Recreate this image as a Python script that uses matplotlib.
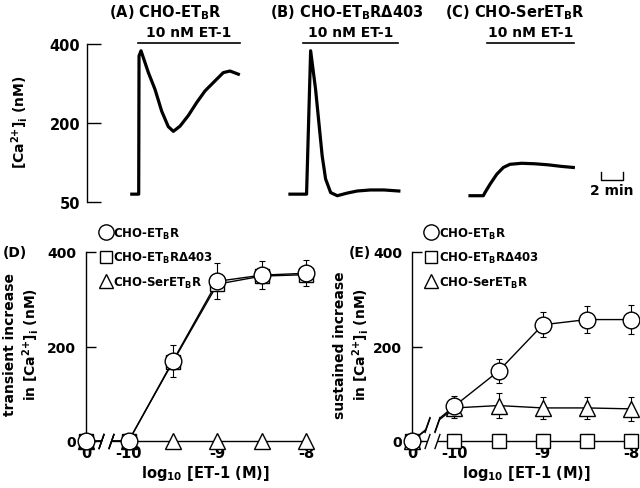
import numpy as np
import matplotlib
matplotlib.use("Agg")
import matplotlib.pyplot as plt
from matplotlib.path import Path
from matplotlib.lines import Line2D
import matplotlib.transforms as mtransforms

plt.rcParams['font.family'] = ['DejaVu Sans']
plt.rcParams['font.weight'] = 'bold'
plt.rcParams['axes.labelweight'] = 'bold'
plt.rcParams['mathtext.default'] = 'bf'

# ---------------- data: [Ca2+]i traces (time in min relative to ET-1 addition, value nM)
trace_titles = ["(A) CHO-ET$_B$R", "(B) CHO-ET$_B$R\u0394403", "(C) CHO-SerET$_B$R"]
A_t = [-0.66, -0.03, 0.0, 0.18, 0.85, 1.45, 2.06, 2.66, 3.12, 3.73, 4.48, 5.25, 6.0, 6.9, 7.66, 8.27, 9.03]
A_v = [65, 65, 370, 383, 328, 286, 231, 194, 185, 195, 220, 253, 282, 307, 328, 332, 324]
B_t = [-1.45, 0.06, 0.43, 0.88, 1.18, 1.48, 1.79, 2.25, 2.85, 3.75, 4.66, 5.88, 7.09, 8.45]
B_v = [65, 65, 383, 286, 202, 138, 94, 68, 62, 67, 71, 73, 73, 71]
C_t = [-1.18, 0.03, 0.18, 0.64, 1.25, 1.85, 2.45, 3.52, 4.73, 5.94, 7.15, 8.21]
C_v = [62, 62, 68, 84, 103, 116, 122, 124, 123, 121, 118, 116]
stim_on = [-0.09, -0.27, 0.36]
stim_off = [9.18, 8.36, 8.27]
stim_label = "10 nM ET-1"
top_yticks = [50, 200, 400]

# ---------------- data: dose-response
series_labels = ["CHO-ET$_B$R", "CHO-ET$_B$R\u0394403", "CHO-SerET$_B$R"]
log_conc = [-10, -9.5, -9, -8.5, -8]
control_value = 0
D_circle = [0, 170, 338, 351, 355]
D_circle_err = [0, 34, 38, 29, 28]
D_square = [0, 168, 332, 349, 352]
D_tri = [0, 0, 0, 0, 0]
E_circle = [74, 148, 246, 257, 257]
E_circle_err = [21, 26, 26, 28, 30]
E_square = [0, 0, 0, 0, 0]
E_square_err = [14, 14, 14, 14, 14]
E_tri = [70, 75, 70, 70, 68]
E_tri_err = [22, 27, 24, 23, 25]
x_ticklabels = ["0", "-10", "-9", "-8"]
bottom_yticks = [0, 200, 400]

CA = "[Ca$^{2{+}}$]$_i$ (nM)"

# ---------------- layout constants
W, H = 640, 489
fig = plt.figure(figsize=(W / 100, H / 100), dpi=100)

def px_axes(l, t, r, b):
    return fig.add_axes([l / W, 1 - b / H, (r - l) / W, (b - t) / H])

# ---- top row: one time axis shared by three traces
ax = px_axes(87, 45, 637, 203)
trace_offset = [4.73, 19.9, 36.0]          # minutes, horizontal placement of each trace
title_x = [7.1, 23.6, 38.9]

def fwd(v):
    v = np.asarray(v, dtype=float)
    return np.where(v <= 200, (v - 200) * 79.0 / 150.0, (v - 200) * 80.0 / 200.0)

def inv(p):
    p = np.asarray(p, dtype=float)
    return np.where(p <= 0, 200 + p * 150.0 / 79.0, 200 + p * 200.0 / 80.0)

ax.set_yscale('function', functions=(fwd, inv))
ax.set_ylim(50, 400)
ax.set_xlim(0, 50)
traces = [(A_t, A_v), (B_t, B_v), (C_t, C_v)]
bt = mtransforms.blended_transform_factory(ax.transData, ax.transAxes)
for i, (t, v) in enumerate(traces):
    ax.plot(np.array(t) + trace_offset[i], v, color='black', lw=2.3, solid_joinstyle='round')
    ax.plot([stim_on[i] + trace_offset[i], stim_off[i] + trace_offset[i]], [1.006, 1.006],
            transform=bt, color='black', lw=1.2, clip_on=False)
    ax.text((stim_on[i] + stim_off[i]) / 2 + trace_offset[i], 1.076, stim_label, transform=bt,
            ha='center', va='center', fontsize=10)
    ax.text(title_x[i], 1.203, trace_titles[i], transform=bt, ha='center', va='center', fontsize=10.5)

for s in ['top', 'right', 'bottom']:
    ax.spines[s].set_visible(False)
ax.spines['left'].set_linewidth(1.0)
ax.spines['left'].set_bounds(50, 400)
ax.set_xticks([])
ax.set_yticks(top_yticks)
ax.set_yticklabels([str(v) for v in top_yticks])
ax.tick_params(axis='y', direction='in', length=10, width=1.0, labelsize=10.5, pad=5)
ax.yaxis.set_minor_locator(matplotlib.ticker.NullLocator())
# 2-min scale bar
sb_x0, sb_x1 = 46.7, 48.7
ax.plot([sb_x0, sb_x0, sb_x1, sb_x1], [0.19, 0.139, 0.139, 0.19], transform=bt,
        color='black', lw=1.0, clip_on=False)
ax.text((sb_x0 + sb_x1) / 2, 0.076, "2 min", transform=bt, ha='center', va='center', fontsize=10)
fig.text(20 / W, 1 - 122 / H, CA, rotation=90, ha='center', va='center', fontsize=10)

# ---- bottom row
ZERO_POS = -10.48
BREAK_POS = -10.25
slash_path = Path([(-1, -1), (-0.3, 1), (0.3, -1), (1, 1)],
                  [Path.MOVETO, Path.LINETO, Path.MOVETO, Path.LINETO])
gap_path = Path([(-1, -1), (0.3, -1), (1, 1), (-0.3, 1), (-1, -1)],
                [Path.MOVETO, Path.LINETO, Path.LINETO, Path.LINETO, Path.CLOSEPOLY])

marker_spec = {'o': 12, 's': 10, '^': 11}

def draw_series(a, vals, marker, err=None, z=3):
    x = [ZERO_POS] + log_conc
    y = [control_value] + list(vals)
    a.plot(x, y, color='black', lw=1.0, zorder=2, clip_on=False)
    if err is not None:
        e = [0] + list(err)
        a.errorbar(x, y, yerr=e, fmt='none', ecolor='black', elinewidth=0.8,
                   capsize=2.5, capthick=0.8, zorder=2.5, clip_on=False)
    a.plot(x, y, ls='none', marker=marker, ms=marker_spec[marker], mfc='white', mec='black',
           mew=1.0, zorder=z, clip_on=False)
    yb = np.interp(BREAK_POS, [ZERO_POS, log_conc[0]], [control_value, vals[0]])
    a.plot([BREAK_POS], [yb], ls='none', marker=gap_path, ms=11, mfc='white', mec='white',
           mew=0, zorder=4, clip_on=False)
    a.plot([BREAK_POS], [yb], ls='none', marker=slash_path, ms=11, mfc='none', mec='black',
           mew=1.0, zorder=4.5, clip_on=False)

def style_bottom(a, ylabel, panel, label_x, panel_x, legend_x):
    a.set_ylim(0, 400)
    for s in ['top', 'right', 'bottom']:
        a.spines[s].set_visible(False)
    a.spines['left'].set_bounds(0, 400)
    a.spines['left'].set_linewidth(1.0)
    a.set_xticks([ZERO_POS] + [-10, -9, -8])
    a.set_xticklabels(x_ticklabels)
    a.tick_params(axis='x', length=0, labelsize=10.5, pad=3)
    a.set_yticks(bottom_yticks)
    a.tick_params(axis='y', direction='in', length=7, width=1.0, labelsize=10, pad=7)
    a.set_xlabel("log$_{10}$ [ET-1 (M)]", fontsize=10.5, labelpad=2)
    fig.text(label_x / W, 1 - 345 / H, ylabel, rotation=90, ha='center', va='center',
             fontsize=10, linespacing=1.2)
    fig.text(panel_x / W, 1 - 253 / H, panel, ha='center', va='center', fontsize=10)
    handles = [Line2D([], [], ls='none', marker=m, ms=marker_spec[m] - 1, mfc='white', mec='black', mew=1.0)
               for m in ['o', 's', '^']]
    a.legend(handles, series_labels, loc='upper left', bbox_to_anchor=(legend_x, 1.14),
             frameon=False, fontsize=8.5, handlelength=0.9, handletextpad=0.15,
             labelspacing=0.8, borderpad=0, borderaxespad=0)

axD = px_axes(86, 253, 324, 442)
axD.set_xlim(ZERO_POS, -7.8)
draw_series(axD, D_tri, '^', None, z=3)
draw_series(axD, D_square, 's', None, z=3.1)
draw_series(axD, D_circle, 'o', D_circle_err, z=3.2)
style_bottom(axD, "transient increase\nin " + CA, "(D)", 22, 15, 0.062)

axE = px_axes(412, 253, 640, 442)
axE.set_xlim(ZERO_POS, -7.9)
draw_series(axE, E_square, 's', E_square_err, z=3)
draw_series(axE, E_tri, '^', E_tri_err, z=3.1)
draw_series(axE, E_circle, 'o', E_circle_err, z=3.2)
style_bottom(axE, "sustained increase\nin " + CA, "(E)", 352, 360, 0.062)

fig.savefig("out.png", dpi=100)
